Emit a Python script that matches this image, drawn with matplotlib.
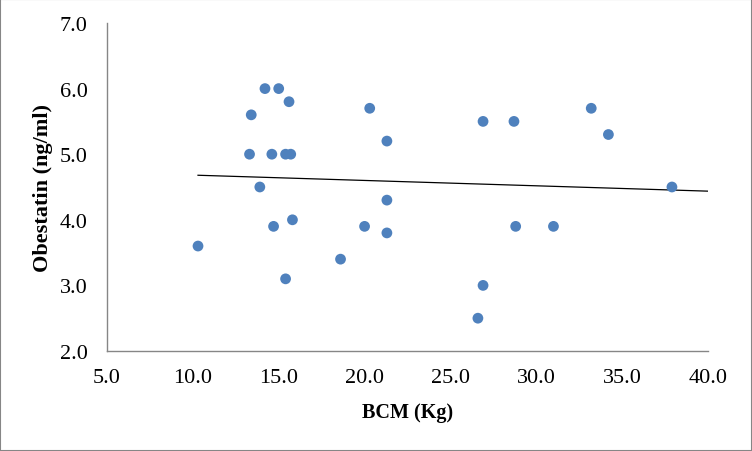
import matplotlib
matplotlib.use("Agg")
import matplotlib.pyplot as plt
from matplotlib.patches import Rectangle
import numpy as np

bcm = [14.2, 15.0, 15.6, 13.4, 20.3, 21.3, 13.3, 14.6, 15.4, 15.7, 13.9,
       26.9, 28.7, 33.2, 34.2, 37.9,
       21.3, 15.8, 14.7, 20.0, 21.3, 10.3, 18.6, 15.4,
       28.8, 31.0, 26.9, 26.6]
obestatin = [6.0, 6.0, 5.8, 5.6, 5.7, 5.2, 5.0, 5.0, 5.0, 5.0, 4.5,
             5.5, 5.5, 5.7, 5.3, 4.5,
             4.3, 4.0, 3.9, 3.9, 3.8, 3.6, 3.4, 3.1,
             3.9, 3.9, 3.0, 2.5]
x_ticks = [5.0, 10.0, 15.0, 20.0, 25.0, 30.0, 35.0, 40.0]
y_ticks = [2.0, 3.0, 4.0, 5.0, 6.0, 7.0]

plt.rcParams['font.family'] = ['Liberation Serif', 'DejaVu Serif']

fig = plt.figure(figsize=(7.52, 4.52), dpi=100)
ax = fig.add_axes([107/752, 1 - 352/452, (708 - 107)/752, (352 - 24)/452])

ax.scatter(bcm, obestatin, s=60, color='#4F81BD', edgecolors='none', zorder=3)

# linear trendline (least squares), extended forward to axis max
slope, intercept = np.polyfit(bcm, obestatin, 1)
xt = np.array([min(bcm), x_ticks[-1]])
ax.plot(xt, slope * xt + intercept, color='black', lw=0.9, zorder=2)

ax.set_xlim(x_ticks[0], x_ticks[-1])
ax.set_ylim(y_ticks[0], y_ticks[-1])
ax.set_xticks(x_ticks)
ax.set_yticks(y_ticks)
ax.set_xticklabels([f"{v:.1f}" for v in x_ticks])
ax.set_yticklabels([f"{v:.1f}" for v in y_ticks])
ax.tick_params(axis='both', length=0, labelsize=16, colors='black')
ax.tick_params(axis='x', pad=12)
ax.tick_params(axis='y', pad=14)

for s in ['top', 'right']:
    ax.spines[s].set_visible(False)
for s in ['left', 'bottom']:
    ax.spines[s].set_color('#868686')
    ax.spines[s].set_linewidth(1.0)

ax.set_xlabel('BCM (Kg)', fontsize=14.5, fontweight='bold')
ax.set_ylabel('Obestatin (ng/ml)', fontsize=16, fontweight='bold')
ax.xaxis.set_label_coords(0.5, -(413 - 352) / 328, transform=ax.transAxes)
ax.yaxis.set_label_coords(-(107 - 43) / 601, 0.5, transform=ax.transAxes)
ax.xaxis.label.set_va('center')
ax.yaxis.label.set_va('center')

fig.patches.append(Rectangle((0, 0), 1, 1, transform=fig.transFigure,
                             fill=False, edgecolor='#868686', lw=1.5))

fig.savefig('out.png', dpi=100)
